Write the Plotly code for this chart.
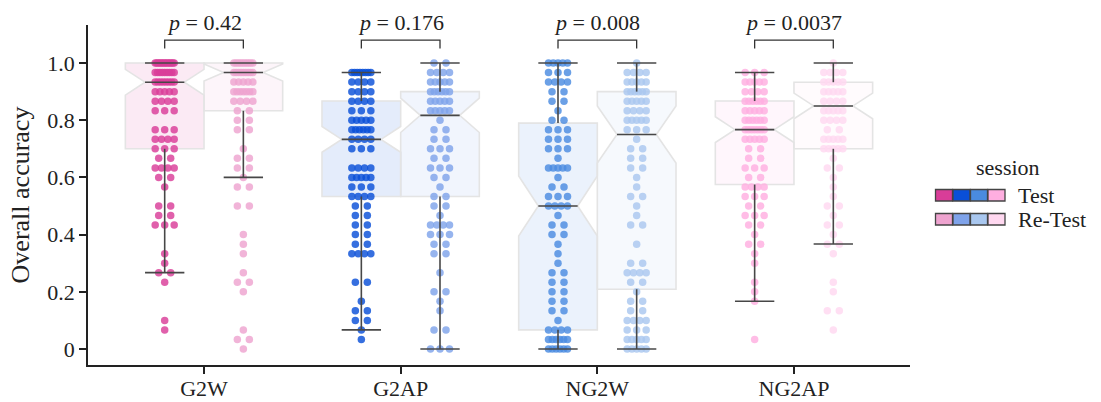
import plotly.graph_objects as go

# ---------------- data ----------------
categories = ["G2W", "G2AP", "NG2W", "NG2AP"]
sessions = ["Test", "Re-Test"]

# accuracy levels (multiples of 1/30) on which the individual scores lie
levels = [0.0, 0.0333, 0.0667, 0.1, 0.1333, 0.1667, 0.2, 0.2333, 0.2667, 0.3,
          0.3333, 0.3667, 0.4, 0.4333, 0.4667, 0.5, 0.5333, 0.5667, 0.6, 0.6333,
          0.6667, 0.7, 0.7333, 0.7667, 0.8, 0.8333, 0.8667, 0.9, 0.9333, 0.9667, 1.0]

# number of participants at each accuracy level (index matches `levels`)
counts_G2W_test = [0, 0, 1, 1, 0, 0, 0, 1, 2, 1, 1, 0, 0, 3, 2, 2, 0, 1, 2, 4, 2, 3, 4, 3, 0, 3, 4, 5, 8, 9, 14]
counts_G2W_retest = [1, 2, 1, 0, 0, 0, 1, 2, 1, 0, 1, 1, 1, 0, 0, 2, 0, 2, 1, 2, 2, 1, 0, 2, 2, 2, 4, 7, 5, 9, 10]
counts_G2AP_test = [0, 1, 1, 2, 2, 1, 0, 2, 0, 0, 4, 2, 2, 2, 2, 2, 4, 3, 5, 4, 0, 3, 4, 6, 5, 3, 4, 4, 4, 8, 0]
counts_G2AP_retest = [3, 0, 2, 0, 1, 1, 2, 0, 1, 0, 2, 2, 3, 4, 1, 2, 2, 1, 2, 3, 2, 3, 2, 2, 1, 5, 5, 6, 5, 4, 2]
counts_NG2W_test = [6, 6, 4, 1, 2, 2, 2, 2, 2, 1, 1, 1, 2, 2, 1, 4, 3, 2, 1, 5, 1, 3, 3, 3, 2, 1, 2, 2, 4, 3, 5]
counts_NG2W_retest = [5, 5, 3, 4, 2, 2, 1, 2, 4, 2, 0, 1, 0, 2, 1, 1, 2, 1, 1, 2, 2, 2, 1, 3, 5, 4, 5, 6, 5, 4, 1]
counts_NG2AP_test = [0, 1, 0, 0, 0, 1, 1, 1, 0, 1, 1, 2, 1, 2, 3, 2, 3, 4, 2, 3, 2, 2, 5, 7, 6, 5, 6, 4, 5, 3, 0]
counts_NG2AP_retest = [0, 0, 1, 0, 2, 0, 1, 1, 0, 0, 1, 2, 1, 2, 1, 2, 1, 1, 1, 2, 1, 5, 5, 2, 4, 5, 4, 5, 5, 4, 1]

counts_test = [counts_G2W_test, counts_G2AP_test, counts_NG2W_test, counts_NG2AP_test]
counts_retest = [counts_G2W_retest, counts_G2AP_retest, counts_NG2W_retest, counts_NG2AP_retest]

# box statistics as drawn in the reference (per category)
q1_test = [0.70, 0.533, 0.067, 0.575]
median_test = [0.933, 0.733, 0.50, 0.767]
q3_test = [1.0, 0.867, 0.79, 0.867]
whisk_lo_test = [0.267, 0.067, 0.0, 0.167]
whisk_hi_test = [1.0, 0.967, 1.0, 0.967]
notch_test = [0.045, 0.045, 0.105, 0.045]

q1_retest = [0.833, 0.533, 0.209, 0.70]
median_retest = [0.967, 0.817, 0.75, 0.85]
q3_retest = [1.0, 0.90, 0.90, 0.933]
whisk_lo_retest = [0.60, 0.0, 0.0, 0.367]
whisk_hi_retest = [1.0, 1.0, 1.0, 1.0]
notch_retest = [0.03, 0.06, 0.10, 0.045]

p_values = ["0.42", "0.176", "0.008", "0.0037"]

colors_test = ["#d93d98", "#0a4fd8", "#4a8be0", "#ffaee0"]
colors_retest = ["#eea3cf", "#7fa3ea", "#a9c7ef", "#ffd8f0"]

# ---------------- layout constants ----------------
W_PX, H_PX = 1101, 402
M_L, M_R, M_T, M_B = 88, 191, 25, 37
X_RANGE = [-0.59, 3.59]
Y_RANGE = [-0.056, 1.133]
PLOT_W = W_PX - M_L - M_R
PLOT_H = H_PX - M_T - M_B
PX_PER_X = PLOT_W / (X_RANGE[1] - X_RANGE[0])
DODGE = 0.2
BOX_W = 0.4
HALF_MED = 0.1
FONT = "Liberation Serif, Times New Roman, serif"
DARK = "#474747"
EDGE = "#e4e4e4"


def rgba(hex_color, a):
    h = hex_color.lstrip("#")
    r, g, b = int(h[0:2], 16), int(h[2:4], 16), int(h[4:6], 16)
    return f"rgba({r},{g},{b},{a})"


def row_offsets(n, spacing_px=12.0, half_px=9.5):
    if n <= 1:
        return [0.0] * n
    s = min(spacing_px, 2 * half_px / (n - 1))
    return [(i - (n - 1) / 2) * s / PX_PER_X for i in range(n)]


fig = go.Figure()

groups = []
for i, cat in enumerate(categories):
    groups.append((i - DODGE, colors_test[i], counts_test[i], q1_test[i], median_test[i], q3_test[i],
                   whisk_lo_test[i], whisk_hi_test[i], notch_test[i]))
    groups.append((i + DODGE, colors_retest[i], counts_retest[i], q1_retest[i], median_retest[i], q3_retest[i],
                   whisk_lo_retest[i], whisk_hi_retest[i], notch_retest[i]))

# boxes (light outline, faint fill)
for pos, col, cnt, q1, med, q3, lo, hi, nt in groups:
    fig.add_trace(go.Box(
        x=[pos], q1=[q1], median=[med], q3=[q3], lowerfence=[q1], upperfence=[q3],
        notchspan=[nt], notched=True, notchwidth=0.25, width=BOX_W,
        fillcolor=rgba(col, 0.11), line=dict(color=EDGE, width=1.6),
        whiskerwidth=0, boxpoints=False, showlegend=False, hoverinfo="skip"))

# swarm points
for pos, col, cnt, q1, med, q3, lo, hi, nt in groups:
    xs, ys = [], []
    for lev, n in zip(levels, cnt):
        for off in row_offsets(n):
            xs.append(pos + off)
            ys.append(lev)
    fig.add_trace(go.Scatter(
        x=xs, y=ys, mode="markers",
        marker=dict(color=col, size=7.5, opacity=0.82, line=dict(width=0)),
        showlegend=False, hoverinfo="skip"))

# whiskers, caps and medians
lx, ly = [], []
for pos, col, cnt, q1, med, q3, lo, hi, nt in groups:
    if hi > q3:
        lx += [pos, pos, None]; ly += [q3, hi, None]
    if lo < q1:
        lx += [pos, pos, None]; ly += [q1, lo, None]
    for v in (hi, lo, med):
        lx += [pos - HALF_MED, pos + HALF_MED, None]; ly += [v, v, None]
fig.add_trace(go.Scatter(x=lx, y=ly, mode="lines", line=dict(color=DARK, width=1.6),
                         showlegend=False, hoverinfo="skip"))

# significance brackets
BR_Y, BR_TICK = 1.080, 1.051
bx, by = [], []
for i in range(len(categories)):
    bx += [i - DODGE, i - DODGE, i + DODGE, i + DODGE, None]
    by += [BR_TICK, BR_Y, BR_Y, BR_TICK, None]
fig.add_trace(go.Scatter(x=bx, y=by, mode="lines", line=dict(color="#333333", width=1.3),
                         showlegend=False, hoverinfo="skip", cliponaxis=False))

for i, p in enumerate(p_values):
    fig.add_annotation(x=i, y=1.092, xref="x", yref="y", text=f"<i>p</i> = {p}",
                       showarrow=False, yanchor="bottom", xanchor="center",
                       font=dict(family=FONT, size=22, color="#222222"))

# custom legend (session, multi-colour patches)
def px_x(px):
    return (px - M_L) / PLOT_W


def px_y(py):
    return (H_PX - M_B - py) / PLOT_H


patch_x = [935.5, 953.0, 970.5, 988.0]
patch_w = 17.0
rows = [(189.5, 201.0, colors_test, "Test"), (213.5, 225.0, colors_retest, "Re-Test")]
for y0, y1, cols, label in rows:
    for x0, c in zip(patch_x, cols):
        fig.add_shape(type="rect", xref="paper", yref="paper",
                      x0=px_x(x0), x1=px_x(x0 + patch_w), y0=px_y(y1), y1=px_y(y0),
                      fillcolor=c, line=dict(color="#444444", width=1.3))
    fig.add_annotation(x=px_x(1016), y=px_y((y0 + y1) / 2), xref="paper", yref="paper",
                       text=label, showarrow=False, xanchor="left", yanchor="middle",
                       font=dict(family=FONT, size=22, color="#222222"))
fig.add_annotation(x=px_x(1008), y=px_y(168), xref="paper", yref="paper",
                   text="session", showarrow=False, xanchor="center", yanchor="middle",
                   font=dict(family=FONT, size=22, color="#222222"))

fig.update_layout(
    width=W_PX, height=H_PX,
    margin=dict(l=M_L, r=M_R, t=M_T, b=M_B, autoexpand=False),
    paper_bgcolor="white", plot_bgcolor="white",
    font=dict(family=FONT, size=22, color="#222222"),
    boxmode="overlay",
    showlegend=False,
    xaxis=dict(range=X_RANGE, tickmode="array", tickvals=list(range(len(categories))),
               ticktext=categories, showline=True, linecolor="#222222", linewidth=1.5,
               ticks="outside", ticklen=7, tickwidth=1.5, tickcolor="#222222",
               ticklabelstandoff=-4,
               showgrid=False, zeroline=False, fixedrange=True),
    yaxis=dict(range=Y_RANGE, tickmode="array", tickvals=[0, 0.2, 0.4, 0.6, 0.8, 1.0],
               ticktext=["0", "0.2", "0.4", "0.6", "0.8", "1.0"],
               title=dict(text="Overall accuracy", standoff=10),
               showline=True, linecolor="#222222", linewidth=1.5,
               ticks="outside", ticklen=7, tickwidth=1.5, tickcolor="#222222",
               showgrid=False, zeroline=False, fixedrange=True),
)

fig.write_html("out.html")
